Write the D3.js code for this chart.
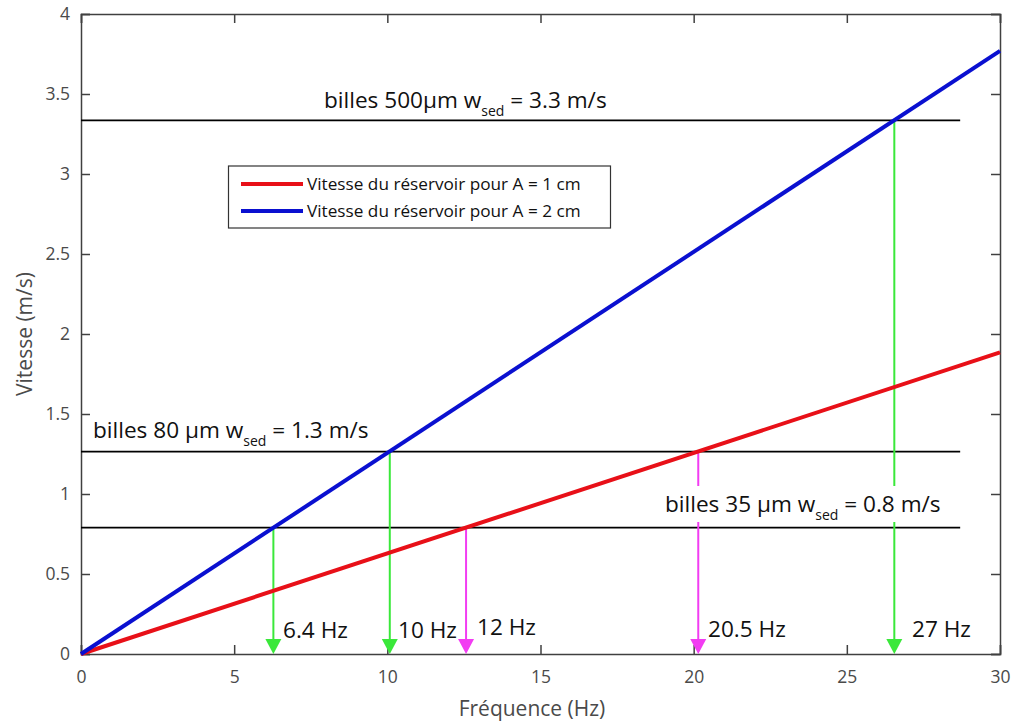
<!DOCTYPE html>
<html><head><meta charset="utf-8">
<script src="https://cdn.jsdelivr.net/npm/d3@7"></script>
<style>body{margin:0;background:#fff}svg{display:block}text{font-family:"Open Sans",sans-serif}</style>
</head><body><svg id="c" width="1011" height="722"></svg>
<script>
// ---- data ----
const freqDomain = [0, 30];
const redSeries = [[0, 0], [30, 1.885]];      // A = 1 cm
const blueSeries = [[0, 0], [30, 3.77]];      // A = 2 cm
const wsedValues = [3.335, 1.265, 0.79];       // horizontal thresholds
const wsedLabels = ["billes 500µm w", "billes 80 µm w", "billes 35 µm w"];
const wsedSuffix = [" = 3.3 m/s", " = 1.3 m/s", " = 0.8 m/s"];
const arrowFreqs = [6.28, 10.08, 12.57, 20.15, 26.55];
const arrowLevels = [0.79, 1.265, 0.79, 1.265, 3.335];
const arrowColors = ["green", "green", "magenta", "magenta", "green"];
const arrowLabels = ["6.4 Hz", "10 Hz", "12 Hz", "20.5 Hz", "27 Hz"];
const xTicks = [0, 5, 10, 15, 20, 25, 30];
const yTicks = [0, 0.5, 1, 1.5, 2, 2.5, 3, 3.5, 4];
const legendLabels = ["Vitesse du réservoir pour A = 1 cm", "Vitesse du réservoir pour A = 2 cm"];

// ---- layout ----
const L = 81, R = 1000, T = 14, B = 654;
const svg = d3.select("#c");
const x = d3.scaleLinear().domain(freqDomain).range([L, R]);
const y = d3.scaleLinear().domain([0, 4]).range([B, T]);
const colors = {green: "#3ae83a", magenta: "#f23cf2", red: "#e81018", blue: "#0a10d0"};

// axes (ticks inward)
const axCol = "#404040";
svg.append("g").attr("transform", `translate(0,${B})`)
  .call(d3.axisBottom(x).tickValues(xTicks).tickSize(-9).tickPadding(17).tickFormat(d3.format("d")));
svg.append("g").attr("transform", `translate(${L},0)`)
  .call(d3.axisLeft(y).tickValues(yTicks).tickSize(-9).tickPadding(11).tickFormat(d => String(d)));
svg.append("g").attr("transform", `translate(0,${T})`)
  .call(d3.axisTop(x).tickValues(xTicks).tickSize(-9).tickFormat(""));
svg.append("g").attr("transform", `translate(${R},0)`)
  .call(d3.axisRight(y).tickValues(yTicks).tickSize(-9).tickFormat(""));
svg.selectAll(".domain").attr("stroke", axCol).attr("stroke-width", 1.5);
svg.selectAll(".tick line").attr("stroke", axCol).attr("stroke-width", 1.5);
svg.selectAll(".tick text").attr("fill", "#4a4a4a").style("font-size", "17.5px").style("font-family", "Open Sans");

// axis titles
svg.append("text").attr("x", 532).attr("y", 716).attr("text-anchor", "middle")
  .attr("fill", "#4a4a4a").style("font-size", "21px").text("Fréquence (Hz)");
svg.append("text").attr("transform", `translate(32,334) rotate(-90)`).attr("text-anchor", "middle")
  .attr("fill", "#4a4a4a").style("font-size", "21px").text("Vitesse (m/s)");

// horizontal thresholds
svg.selectAll(".hl").data(wsedValues).join("line")
  .attr("x1", x(0)).attr("x2", x(28.7)).attr("y1", d => y(d)).attr("y2", d => y(d))
  .attr("stroke", "#000").attr("stroke-width", 1.6);

// arrows
const ah = 15, aw = 8;
arrowFreqs.forEach((f, i) => {
  const c = colors[arrowColors[i]];
  svg.append("line").attr("x1", x(f)).attr("x2", x(f)).attr("y1", y(arrowLevels[i])).attr("y2", B - ah)
    .attr("stroke", c).attr("stroke-width", 2);
  svg.append("path").attr("d", `M${x(f) - aw},${B - ah}L${x(f) + aw},${B - ah}L${x(f)},${B}Z`).attr("fill", c);
});

// speed lines
const line = d3.line().x(d => x(d[0])).y(d => y(d[1]));
svg.append("path").datum(redSeries).attr("d", line).attr("fill", "none").attr("stroke", colors.red).attr("stroke-width", 4);
svg.append("path").datum(blueSeries).attr("d", line).attr("fill", "none").attr("stroke", colors.blue).attr("stroke-width", 4);

// threshold labels
const labPos = [[324, 108], [93, 438], [665, 512]];
wsedLabels.forEach((t, i) => {
  const g = svg.append("g");
  if (i === 2) g.append("rect").attr("x", labPos[i][0] - 4).attr("y", 486).attr("width", 290).attr("height", 36).attr("fill", "#fff");
  const tx = g.append("text").attr("x", labPos[i][0]).attr("y", labPos[i][1]).attr("fill", "#111").style("font-size", "22.6px");
  tx.append("tspan").text(t);
  tx.append("tspan").attr("dy", 8).style("font-size", "14px").text("sed");
  tx.append("tspan").attr("dy", -8).text(wsedSuffix[i]);
});

// arrow labels
const alPos = [[283, 638], [398, 638], [477, 635], [708, 637], [912, 637]];
arrowLabels.forEach((t, i) => {
  svg.append("text").attr("x", alPos[i][0]).attr("y", alPos[i][1]).attr("fill", "#111").style("font-size", "22.6px").text(t);
});

// legend
const lg = svg.append("g");
lg.append("rect").attr("x", 228.5).attr("y", 166).attr("width", 382).attr("height", 62)
  .attr("fill", "#fff").attr("stroke", "#333").attr("stroke-width", 1.2);
[colors.red, colors.blue].forEach((c, i) => {
  const yy = 184 + i * 27;
  lg.append("line").attr("x1", 241).attr("x2", 303).attr("y1", yy).attr("y2", yy).attr("stroke", c).attr("stroke-width", 4);
  lg.append("text").attr("x", 307).attr("y", yy + 6).attr("fill", "#111").style("font-size", "17.2px").text(legendLabels[i]);
});
</script></body></html>
